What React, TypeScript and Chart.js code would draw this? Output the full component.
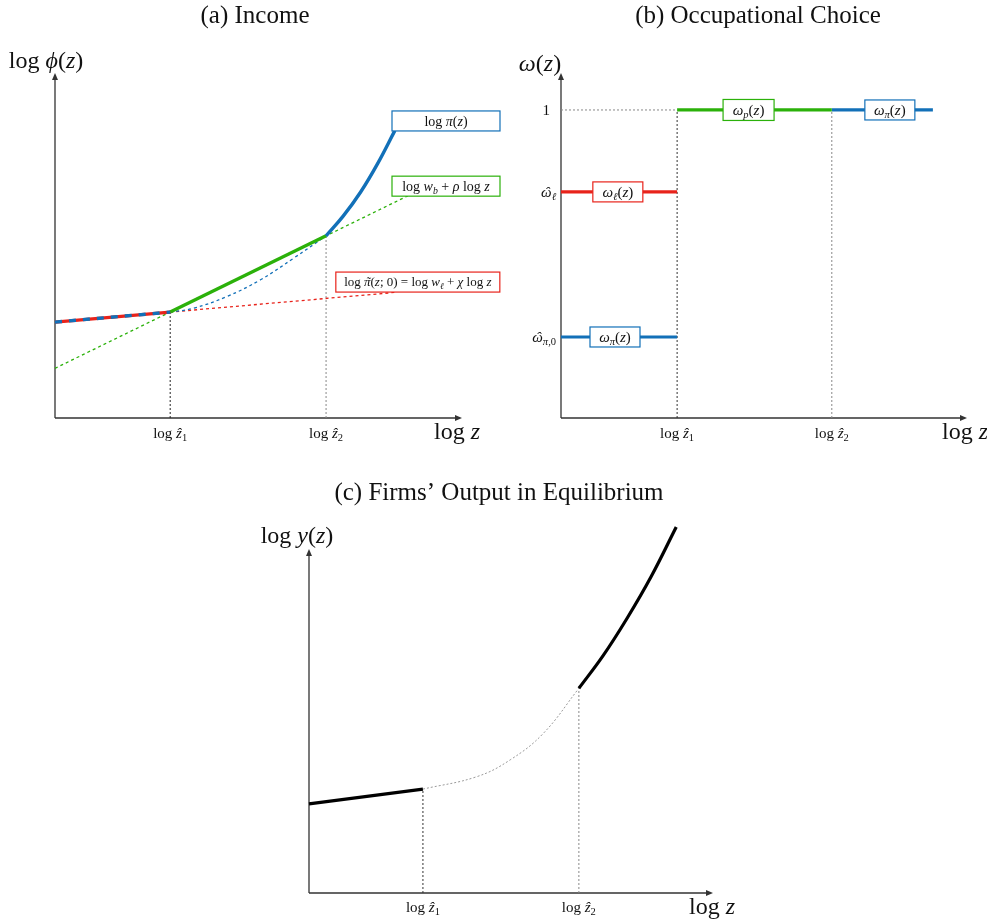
import React, { useEffect, useRef } from "react";
import { Chart, registerables } from "chart.js";
Chart.register(...registerables);

const SERIF = "'Liberation Serif', 'Times New Roman', 'DejaVu Serif', serif";
const RED = "#e8231b";
const BLUE = "#1270b8";
const GREEN = "#2bb10a";

type Pt = [number, number];
type Part = [string, string];

// ---------- Panel (a) Income ----------
const A_Z1 = 2.83;
const A_Z2 = 6.66;
const A_lowLine: Pt[] = [[0, 2.78], [2.83, 3.07]];
const A_piSolid: Pt[] = [[6.66, 5.28], [7.08, 5.85], [7.51, 6.55], [7.93, 7.38], [8.35, 8.33]];
const A_piDotted: Pt[] = [[2.83, 3.07], [3.4, 3.18], [4.22, 3.52], [5.04, 4.0], [5.86, 4.63], [6.66, 5.28]];
const A_wageSolid: Pt[] = [[2.83, 3.07], [6.66, 5.28]];
const A_wageDotted: Pt[] = [[0, 1.44], [8.67, 6.44]];
const A_ellDotted: Pt[] = [[2.83, 3.07], [8.35, 3.64]];
const A_guide1: Pt[] = [[A_Z1, 0], [A_Z1, 3.07]];
const A_guide2: Pt[] = [[A_Z2, 0], [A_Z2, 5.28]];

// ---------- Panel (b) Occupational Choice ----------
const B_Z1 = 2.86;
const B_Z2 = 6.67;
const B_XEND = 9.16;
const B_ONE = 1;
const B_OMEGA_ELL = 0.734;
const B_OMEGA_PI0 = 0.263;
const B_ell: Pt[] = [[0, B_OMEGA_ELL], [B_Z1, B_OMEGA_ELL]];
const B_piLow: Pt[] = [[0, B_OMEGA_PI0], [B_Z1, B_OMEGA_PI0]];
const B_p: Pt[] = [[B_Z1, B_ONE], [B_Z2, B_ONE]];
const B_piHigh: Pt[] = [[B_Z2, B_ONE], [B_XEND, B_ONE]];
const B_oneGuide: Pt[] = [[0, B_ONE], [B_Z1, B_ONE]];
const B_guide1: Pt[] = [[B_Z1, 0], [B_Z1, B_ONE]];
const B_guide2: Pt[] = [[B_Z2, 0], [B_Z2, B_ONE]];

// ---------- Panel (c) Firms' Output ----------
const C_Z1 = 2.82;
const C_Z2 = 6.68;
const C_low: Pt[] = [[0, 2.59], [2.82, 3.02]];
const C_mid: Pt[] = [[2.82, 3.02], [4.15, 3.38], [4.98, 3.87], [5.8, 4.64], [6.68, 5.95]];
const C_high: Pt[] = [[6.68, 5.95], [7.28, 6.9], [7.87, 7.98], [8.47, 9.2], [9.09, 10.64]];
const C_guide1: Pt[] = [[C_Z1, 0], [C_Z1, 3.02]];
const C_guide2: Pt[] = [[C_Z2, 0], [C_Z2, 5.95]];

// ---------- text ----------
const LOGZ: Part[] = [["log ", ""], ["z", "i"]];
const tick = (n: string): Part[] => [["log ", ""], ["\u1E91", "i"], [n, "s"]];

function drawRich(ctx: CanvasRenderingContext2D, parts: Part[], x: number, y: number, size: number, align = "center") {
  const fontFor = (f: string) => {
    const sz = f.includes("s") ? size * 0.7 : size;
    return `${f.includes("i") ? "italic " : ""}${sz}px ${SERIF}`;
  };
  let total = 0;
  const widths = parts.map(([t, f]) => {
    ctx.font = fontFor(f);
    const w = ctx.measureText(t).width;
    total += w;
    return w;
  });
  let cx = align === "center" ? x - total / 2 : align === "right" ? x - total : x;
  const base = y + size * 0.33;
  ctx.textBaseline = "alphabetic";
  ctx.textAlign = "left";
  ctx.fillStyle = "#111";
  parts.forEach(([t, f], i) => {
    ctx.font = fontFor(f);
    const dy = f.includes("s") ? size * 0.22 : 0;
    ctx.fillText(t, cx, base + dy);
    const acc = f.includes("h") ? "\u02C6" : f.includes("t") ? "\u02DC" : "";
    if (acc) {
      ctx.textAlign = "center";
      ctx.fillText(acc, cx + widths[i] / 2 + size * 0.06, base + dy - size * 0.02);
      ctx.textAlign = "left";
    }
    cx += widths[i];
  });
  return total;
}

type Box = { x: number; y: number; w: number; h: number; color: string; parts: Part[]; size: number; anchor: "left" | "center" };
type Overlay = {
  title: { text: string; x: number; y: number };
  yAxisTop: number;
  ticks: { v: number; parts: Part[] }[];
  tickY: number;
  xLabel: { parts: Part[]; x: number; y: number };
  yLabel: { parts: Part[]; x: number; y: number };
  levels?: { v: number; parts: Part[]; x: number; size: number }[];
  boxes: Box[];
};

function overlayPlugin(cfg: Overlay) {
  return {
    id: "overlay",
    beforeDatasetsDraw(chart: any) {
      const ctx: CanvasRenderingContext2D = chart.ctx;
      const xs = chart.scales.x, ys = chart.scales.y;
      const x0 = xs.getPixelForValue(0), y0 = ys.getPixelForValue(0);
      const xe = xs.getPixelForValue(xs.max), ye = ys.getPixelForValue(cfg.yAxisTop);
      ctx.save();
      ctx.strokeStyle = "#333";
      ctx.fillStyle = "#333";
      ctx.lineWidth = 1.3;
      ctx.beginPath();
      ctx.moveTo(x0, y0);
      ctx.lineTo(xe - 5, y0);
      ctx.moveTo(x0, y0);
      ctx.lineTo(x0, ye + 5);
      ctx.stroke();
      ctx.beginPath();
      ctx.moveTo(xe, y0);
      ctx.lineTo(xe - 7, y0 - 3);
      ctx.lineTo(xe - 7, y0 + 3);
      ctx.closePath();
      ctx.fill();
      ctx.beginPath();
      ctx.moveTo(x0, ye);
      ctx.lineTo(x0 - 3, ye + 7);
      ctx.lineTo(x0 + 3, ye + 7);
      ctx.closePath();
      ctx.fill();
      ctx.restore();
    },
    afterDatasetsDraw(chart: any) {
      const ctx: CanvasRenderingContext2D = chart.ctx;
      const xs = chart.scales.x, ys = chart.scales.y;
      ctx.save();
      ctx.fillStyle = "#111";
      ctx.font = `25px ${SERIF}`;
      ctx.textAlign = "center";
      ctx.textBaseline = "middle";
      ctx.fillText(cfg.title.text, cfg.title.x, cfg.title.y);
      cfg.ticks.forEach((t) => drawRich(ctx, t.parts, xs.getPixelForValue(t.v), cfg.tickY, 15));
      drawRich(ctx, cfg.xLabel.parts, cfg.xLabel.x, cfg.xLabel.y, 24);
      drawRich(ctx, cfg.yLabel.parts, cfg.yLabel.x, cfg.yLabel.y, 24);
      (cfg.levels || []).forEach((l) => drawRich(ctx, l.parts, l.x, ys.getPixelForValue(l.v), l.size, "right"));
      cfg.boxes.forEach((b) => {
        const py = ys.getPixelForValue(b.y);
        const px = xs.getPixelForValue(b.x);
        const left = b.anchor === "left" ? px : px - b.w / 2;
        ctx.fillStyle = "#fff";
        ctx.fillRect(left, py - b.h / 2, b.w, b.h);
        ctx.strokeStyle = b.color;
        ctx.lineWidth = 1.2;
        ctx.strokeRect(left, py - b.h / 2, b.w, b.h);
        drawRich(ctx, b.parts, left + b.w / 2, py, b.size);
      });
      ctx.restore();
    },
  };
}

function ds(pts: Pt[], color: string, width: number, opts: any = {}) {
  return {
    data: pts.map(([x, y]) => ({ x, y })),
    showLine: true,
    pointRadius: 0,
    borderColor: color,
    borderWidth: width,
    fill: false,
    clip: false,
    tension: 0,
    borderCapStyle: "butt",
    ...opts,
  };
}
const DOT = { borderDash: [3, 3] };
const CURVE = { tension: 0.4 };

type Panel = {
  left: number; top: number; w: number; h: number;
  pad: { left: number; top: number; right: number; bottom: number };
  yMax: number; datasets: any[]; overlay: Overlay;
};

const panels: Panel[] = [
  {
    left: 0, top: 0, w: 505, h: 450,
    pad: { left: 55, top: 73, right: 43, bottom: 32 },
    yMax: 10,
    datasets: [
      ds(A_lowLine, BLUE, 3.4, { borderDash: [7, 7] }),
      ds(A_lowLine, RED, 3.4),
      ds(A_piSolid, BLUE, 3.4, CURVE),
      ds(A_wageSolid, GREEN, 3.4),
      ds(A_piDotted, BLUE, 1.3, { ...DOT, ...CURVE }),
      ds(A_wageDotted, GREEN, 1.3, DOT),
      ds(A_ellDotted, RED, 1.3, DOT),
      ds(A_guide1, "#222", 1, { borderDash: [2, 2] }),
      ds(A_guide2, "#888", 1, { borderDash: [2, 2] }),
    ],
    overlay: {
      title: { text: "(a) Income", x: 255, y: 16 },
      yAxisTop: 10,
      ticks: [{ v: A_Z1, parts: tick("1") }, { v: A_Z2, parts: tick("2") }],
      tickY: 433,
      xLabel: { parts: LOGZ, x: 457, y: 431 },
      yLabel: { parts: [["log ", ""], ["\u03D5", "i"], ["(", ""], ["z", "i"], [")", ""]], x: 46, y: 60 },
      boxes: [
        { x: 8.28, y: 8.61, w: 108, h: 20, color: BLUE, size: 14, anchor: "left", parts: [["log ", ""], ["\u03C0", "i"], ["(", ""], ["z", "i"], [")", ""]] },
        { x: 8.28, y: 6.72, w: 108, h: 20, color: GREEN, size: 14, anchor: "left", parts: [["log ", ""], ["w", "i"], ["b", "si"], [" + ", ""], ["\u03C1", "i"], [" log ", ""], ["z", "i"]] },
        { x: 6.9, y: 3.94, w: 164, h: 20, color: RED, size: 13, anchor: "left", parts: [["log ", ""], ["\u03C0", "it"], ["(", ""], ["z", "i"], ["; 0) = log ", ""], ["w", "i"], ["\u2113", "si"], [" + ", ""], ["\u03C7", "i"], [" log ", ""], ["z", "i"]] },
      ],
    },
  },
  {
    left: 505, top: 0, w: 482, h: 450,
    pad: { left: 56, top: 73, right: 20, bottom: 32 },
    yMax: 1.12,
    datasets: [
      ds(B_ell, RED, 3.2),
      ds(B_piLow, BLUE, 3.2),
      ds(B_p, GREEN, 3.2),
      ds(B_piHigh, BLUE, 3.2),
      ds(B_oneGuide, "#888", 1, { borderDash: [2, 2] }),
      ds(B_guide1, "#333", 1, { borderDash: [2, 2] }),
      ds(B_guide2, "#888", 1, { borderDash: [2, 2] }),
    ],
    overlay: {
      title: { text: "(b) Occupational Choice", x: 253, y: 16 },
      yAxisTop: 1.12,
      ticks: [{ v: B_Z1, parts: tick("1") }, { v: B_Z2, parts: tick("2") }],
      tickY: 433,
      xLabel: { parts: LOGZ, x: 460, y: 431 },
      yLabel: { parts: [["\u03C9", "i"], ["(", ""], ["z", "i"], [")", ""]], x: 35, y: 63 },
      levels: [
        { v: B_ONE, parts: [["1", ""]], x: 45, size: 15 },
        { v: B_OMEGA_ELL, parts: [["\u03C9", "ih"], ["\u2113", "si"]], x: 51, size: 15 },
        { v: B_OMEGA_PI0, parts: [["\u03C9", "ih"], ["\u03C0", "si"], [",0", "s"]], x: 51, size: 15 },
      ],
      boxes: [
        { x: 1.4, y: B_OMEGA_ELL, w: 50, h: 20, color: RED, size: 15, anchor: "center", parts: [["\u03C9", "i"], ["\u2113", "si"], ["(", ""], ["z", "i"], [")", ""]] },
        { x: 1.33, y: B_OMEGA_PI0, w: 50, h: 20, color: BLUE, size: 15, anchor: "center", parts: [["\u03C9", "i"], ["\u03C0", "si"], ["(", ""], ["z", "i"], [")", ""]] },
        { x: 4.62, y: B_ONE, w: 51, h: 21, color: GREEN, size: 15, anchor: "center", parts: [["\u03C9", "i"], ["p", "si"], ["(", ""], ["z", "i"], [")", ""]] },
        { x: 8.1, y: B_ONE, w: 50, h: 20, color: BLUE, size: 15, anchor: "center", parts: [["\u03C9", "i"], ["\u03C0", "si"], ["(", ""], ["z", "i"], [")", ""]] },
      ],
    },
  },
  {
    left: 220, top: 460, w: 530, h: 460,
    pad: { left: 89, top: 89, right: 37, bottom: 27 },
    yMax: 10,
    datasets: [
      ds(C_low, "#000", 3.2),
      ds(C_high, "#000", 3.2, CURVE),
      ds(C_mid, "#999", 1, { borderDash: [2, 2], ...CURVE }),
      ds(C_guide1, "#333", 1, { borderDash: [2, 2] }),
      ds(C_guide2, "#888", 1, { borderDash: [2, 2] }),
    ],
    overlay: {
      title: { text: "(c) Firms\u2019 Output in Equilibrium", x: 279, y: 33 },
      yAxisTop: 10,
      ticks: [{ v: C_Z1, parts: tick("1") }, { v: C_Z2, parts: tick("2") }],
      tickY: 447,
      xLabel: { parts: LOGZ, x: 492, y: 446 },
      yLabel: { parts: [["log ", ""], ["y", "i"], ["(", ""], ["z", "i"], [")", ""]], x: 77, y: 75 },
      boxes: [],
    },
  },
];

function PanelChart({ p }: { p: Panel }) {
  const ref = useRef<HTMLCanvasElement>(null);
  useEffect(() => {
    if (!ref.current) return;
    const chart = new Chart(ref.current, {
      type: "scatter",
      data: { datasets: p.datasets },
      options: {
        responsive: false,
        animation: false,
        events: [],
        layout: { padding: p.pad },
        plugins: { legend: { display: false }, tooltip: { enabled: false } },
        scales: {
          x: { type: "linear", min: 0, max: 10, display: false },
          y: { type: "linear", min: 0, max: p.yMax, display: false },
        },
      } as any,
      plugins: [overlayPlugin(p.overlay)],
    } as any);
    return () => chart.destroy();
  }, []);
  return (
    <canvas
      ref={ref}
      width={p.w}
      height={p.h}
      style={{ position: "absolute", left: p.left, top: p.top, width: p.w, height: p.h }}
    />
  );
}

export default function App() {
  return (
    <div style={{ position: "absolute", left: 0, top: 0, width: 987, height: 920, background: "#fff" }}>
      {panels.map((p, i) => (
        <PanelChart key={i} p={p} />
      ))}
    </div>
  );
}
